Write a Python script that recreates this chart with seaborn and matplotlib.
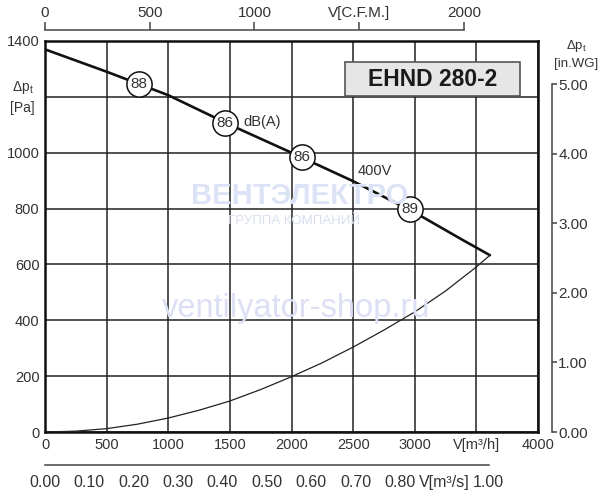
import matplotlib
matplotlib.use("Agg")
import matplotlib.pyplot as plt
import seaborn as sns
import pandas as pd
from matplotlib.patches import Rectangle

# ---------------- data ----------------
fan_flow = [0, 500, 1000, 1500, 2000, 2500, 3000, 3391, 3610]
fan_pressure = [1370, 1290, 1206, 1100, 1000, 898, 786, 687, 633]

sys_flow = [0, 250, 500, 750, 1000, 1250, 1500, 1750, 2000, 2250, 2500, 2750, 3000, 3250, 3500, 3610]
sys_pressure = [0, 3, 12, 28, 50, 78, 111, 152, 198, 248, 304, 365, 430, 505, 591, 633]

noise_flow = [764, 1460, 2083, 2962]
noise_pressure = [1245, 1106, 985, 797]
noise_labels = ["88", "86", "86", "89"]

x_ticks = [0, 500, 1000, 1500, 2000, 2500, 3000, 3500, 4000]
x_ticklabels = ["0", "500", "1000", "1500", "2000", "2500", "3000", "V[m³/h]", "4000"]
y_ticks = [0, 200, 400, 600, 800, 1000, 1200, 1400]
y_ticklabels = ["0", "200", "400", "600", "800", "1000", "", "1400"]

cfm_ticks = [0, 500, 1000, 1500, 2000]
cfm_ticklabels = ["0", "500", "1000", "V[C.F.M.]", "2000"]
ms_ticks = [0.0, 0.1, 0.2, 0.3, 0.4, 0.5, 0.6, 0.7, 0.8, 0.9, 1.0]
ms_ticklabels = ["0.00", "0.10", "0.20", "0.30", "0.40", "0.50", "0.60", "0.70", "0.80", "V[m³/s]", "1.00"]
wg_ticks = [0, 1, 2, 3, 4, 5]
wg_ticklabels = ["0.00", "1.00", "2.00", "3.00", "4.00", "5.00"]

title = "EHND 280-2"
M3H_PER_CFM = 1.69901
M3H_PER_M3S = 3600.0
PA_PER_INWG = 249.089

# ---------------- style ----------------
sns.set_style("white")
plt.rcParams["font.family"] = ["Liberation Sans", "DejaVu Sans"]
plt.rcParams["mathtext.fontset"] = "custom"
plt.rcParams["mathtext.rm"] = "Liberation Sans"
plt.rcParams["mathtext.it"] = "Liberation Sans"
TXT = "#333333"
W, H = 600, 497

fig = plt.figure(figsize=(6.0, 4.97), dpi=100)
L, B = 45 / W, (H - 432) / H
AW, AH = 493 / W, 391 / H

# watermarks (behind everything)
fig.text(300 / W, 1 - 196 / H, "ВЕНТЭЛЕКТРО", ha="center", va="center", fontsize=21,
         fontweight="bold", color="#dde3f6", zorder=0)
fig.text(294 / W, 1 - 221 / H, "ГРУППА КОМПАНИЙ", ha="center", va="center", fontsize=9.5,
         color="#dadfef", zorder=0)
fig.text(296 / W, 1 - 309 / H, "ventilyator-shop.ru", ha="center", va="center", fontsize=23.5,
         color="#dde0f4", zorder=0)

ax = fig.add_axes([L, B, AW, AH])
ax.patch.set_visible(False)

df_fan = pd.DataFrame({"flow": fan_flow, "p": fan_pressure})
df_sys = pd.DataFrame({"flow": sys_flow, "p": sys_pressure})
sns.lineplot(data=df_fan, x="flow", y="p", ax=ax, color="#111111", lw=1.9, sort=False, zorder=3)
sns.lineplot(data=df_sys, x="flow", y="p", ax=ax, color="#222222", lw=0.9, sort=False, zorder=3)

ax.set_xlim(0, 4000)
ax.set_ylim(0, 1400)
ax.set_xticks(x_ticks)
ax.set_xticklabels(x_ticklabels)
ax.set_yticks(y_ticks)
ax.set_yticklabels(y_ticklabels)
ax.grid(True, color="#222222", lw=1.1)
ax.set_axisbelow(True)
ax.tick_params(length=0, labelsize=10.5, labelcolor=TXT, pad=4)
for s in ax.spines.values():
    s.set_visible(True)
    s.set_color("#111111")
    s.set_linewidth(1.8)

# noise circles
df_noise = pd.DataFrame({"flow": noise_flow, "p": noise_pressure})
sns.scatterplot(data=df_noise, x="flow", y="p", ax=ax, s=330, color="white",
                edgecolor="#111111", linewidth=1.1, zorder=4, legend=False)
for fx, py, lab in zip(noise_flow, noise_pressure, noise_labels):
    ax.text(fx, py, lab, ha="center", va="center", fontsize=11, color=TXT, zorder=5)
ax.set_xlabel("")
ax.set_ylabel("")

ax.text(1606, 1110, "dB(A)", ha="left", va="center", fontsize=10.5, color=TXT, zorder=5)
ax.text(2540, 934, "400V", ha="left", va="center", fontsize=10.5, color=TXT, zorder=5)

# title box
ax.add_patch(Rectangle((2434, 1203), 1420, 122, facecolor="#e6e6e6",
                       edgecolor="#555555", lw=1.2, zorder=5))
ax.text(3144, 1262, title, ha="center", va="center", fontsize=16.5,
        fontweight="bold", color="#1a1a1a", zorder=6)

# left axis label
ax.text(-0.022, 1200, "Δp$_\\mathrm{t}$\n[Pa]", transform=ax.get_yaxis_transform(),
        ha="right", va="center", fontsize=10, color=TXT, linespacing=1.5)

AXC = "#444444"
# top CFM axis
ax_top = fig.add_axes([L, (H - 30) / H, AW, 0.0001])
ax_top.set_xlim(0, 4000 / M3H_PER_CFM)
ax_top.set_ylim(0, 1)
ax_top.patch.set_visible(False)
for k in ["left", "right", "bottom"]:
    ax_top.spines[k].set_visible(False)
ax_top.spines["top"].set_color(AXC)
ax_top.spines["top"].set_linewidth(1.1)
ax_top.spines["top"].set_bounds(0, 2000)
ax_top.xaxis.tick_top()
ax_top.set_xticks(cfm_ticks)
ax_top.set_xticklabels(cfm_ticklabels)
ax_top.set_yticks([])
ax_top.tick_params(axis="x", direction="out", length=6, width=1.1, color=AXC,
                   labelsize=11, labelcolor=TXT, pad=1)

# bottom m3/s axis
ax_ms = fig.add_axes([L, (H - 465) / H, AW, 0.0001])
ax_ms.set_xlim(0, 4000 / M3H_PER_M3S)
ax_ms.set_ylim(0, 1)
ax_ms.patch.set_visible(False)
for k in ["left", "right", "top"]:
    ax_ms.spines[k].set_visible(False)
ax_ms.spines["bottom"].set_color(AXC)
ax_ms.spines["bottom"].set_linewidth(1.1)
ax_ms.spines["bottom"].set_bounds(0, 1.0)
ax_ms.set_xticks(ms_ticks)
ax_ms.set_xticklabels(ms_ticklabels)
ax_ms.set_yticks([])
ax_ms.tick_params(axis="x", direction="out", length=5, width=1.1, color=AXC,
                  labelsize=11.5, labelcolor=TXT, pad=2)

# right in.WG axis
ax_wg = fig.add_axes([552 / W, B, 0.0001, AH])
ax_wg.set_ylim(0, 1400 / PA_PER_INWG)
ax_wg.set_xlim(0, 1)
ax_wg.patch.set_visible(False)
for k in ["left", "top", "bottom"]:
    ax_wg.spines[k].set_visible(False)
ax_wg.spines["right"].set_color(AXC)
ax_wg.spines["right"].set_linewidth(1.1)
ax_wg.spines["right"].set_bounds(0, 5)
ax_wg.yaxis.tick_right()
ax_wg.set_yticks(wg_ticks)
ax_wg.set_yticklabels(wg_ticklabels)
ax_wg.set_xticks([])
ax_wg.tick_params(axis="y", direction="out", length=3.5, width=1.1, color=AXC,
                  labelsize=11, labelcolor=TXT, pad=1)
fig.text(576 / W, 1 - 54 / H, "Δp$_\\mathrm{t}$\n[in.WG]", ha="center", va="center",
         fontsize=9.5, color=TXT, linespacing=1.4)

fig.savefig("out.png", dpi=100, facecolor="white")
